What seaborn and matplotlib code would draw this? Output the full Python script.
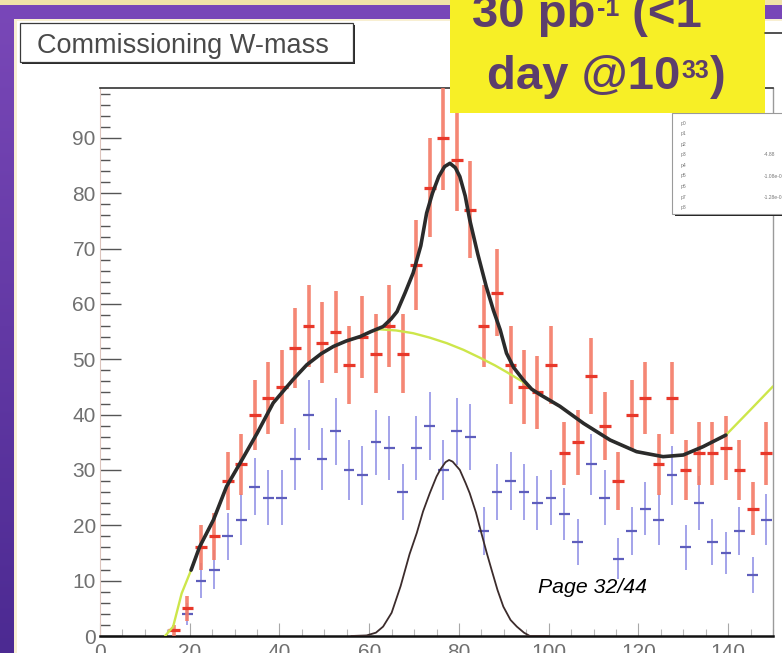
import numpy as np
import matplotlib
matplotlib.use("Agg")
import matplotlib.pyplot as plt
from matplotlib.patches import Rectangle
from matplotlib.ticker import MultipleLocator
import seaborn as sns

# ---------------- data ----------------
# reconstructed transverse/invariant mass spectrum, 3 GeV bins
red_x = np.arange(16.5, 150, 3.0)
red_counts = [1, 5, 16, 18, 28, 31, 40, 43, 45, 52, 56, 53, 55, 49, 54, 51, 56, 51,
              67, 81, 90, 86, 77, 56, 62, 49, 45, 44, 49, 33, 35, 47, 38, 28, 40, 43,
              31, 43, 30, 33, 33, 34, 30, 23, 33]
blue_x = np.arange(19.5, 150, 3.0)
blue_counts = [4, 10, 12, 18, 21, 27, 25, 25, 32, 40, 32, 37, 30, 29, 35, 34, 26, 34,
               38, 30, 37, 36, 19, 26, 28, 26, 24, 25, 22, 17, 31, 25, 14, 19, 23, 21,
               29, 16, 24, 17, 15, 19, 11, 21]

# fitted curves: signal + background (total), background only, signal only
total_x = [20.3, 22.2, 25.3, 28.2, 31.2, 35.0, 38.6, 43.0, 46.1, 49.3, 52.0, 54.9,
           58.0, 60.4, 63.1, 64.9, 66.2, 68.0, 69.8, 71.5, 72.8, 74.1, 75.5, 76.8,
           78.0, 79.2, 80.2, 81.4, 82.4, 84.2, 86.1, 87.7, 89.2, 90.6, 92.2, 94.3,
           96.2, 98.1, 102.5, 107.8, 113.7, 119.6, 125.5, 130.0, 134.4, 139.5]
total_y = [11.9, 16.1, 21.0, 27.0, 31.2, 36.6, 42.1, 46.3, 49.0, 51.0, 52.3, 53.3,
           54.1, 55.0, 55.9, 57.3, 58.6, 62.0, 65.6, 70.5, 76.4, 80.0, 83.0, 84.8,
           85.4, 84.6, 83.0, 79.5, 75.2, 69.0, 63.1, 58.8, 55.3, 51.1, 48.5, 46.3,
           44.6, 43.6, 41.5, 38.4, 35.4, 33.3, 32.4, 32.7, 34.2, 36.3]

bkg_x = [14.5, 16.3, 18.2, 20.3, 22.2, 25.3, 28.2, 31.2, 35.0, 38.6, 43.0, 46.1,
         49.3, 52.0, 54.9, 58.0, 60.4, 62.4, 66.0, 69.8, 73.5, 77.3, 81.0, 84.6,
         88.0, 90.6, 94.3, 96.2, 98.1, 102.5, 107.8, 113.7, 119.6, 125.5, 130.0,
         134.4, 139.5, 144.9, 150.0]
bkg_y = [0.0, 1.7, 7.7, 11.9, 16.1, 21.0, 27.0, 31.2, 36.6, 42.1, 46.3, 49.0,
         51.0, 52.3, 53.3, 54.1, 55.0, 55.4, 55.2, 54.7, 53.9, 52.9, 51.7, 50.3,
         48.9, 47.7, 45.9, 44.6, 43.6, 41.5, 38.4, 35.4, 33.3, 32.4, 32.7,
         34.2, 36.3, 40.8, 45.1]

sig_x = [56.0, 59.4, 61.5, 63.1, 65.0, 67.0, 69.0, 70.6, 72.0, 73.5, 75.0, 75.8,
         77.0, 77.8, 78.6, 80.2, 81.5, 82.4, 83.8, 85.0, 86.2, 87.3, 88.6, 89.9,
         91.5, 92.9, 94.5, 95.8, 100.0]
sig_y = [0.0, 0.1, 0.6, 1.7, 4.2, 9.0, 14.8, 18.6, 22.5, 25.8, 28.8, 30.0,
         31.4, 31.8, 31.5, 30.0, 27.6, 25.8, 22.3, 18.6, 15.0, 11.9, 8.3, 5.3,
         2.9, 1.7, 0.6, 0.0, 0.0]

x_ticks = [0, 20, 40, 60, 80, 100, 120, 140]
y_ticks = [0, 10, 20, 30, 40, 50, 60, 70, 80, 90]

stat_labels = ["p0", "p1", "p2", "p3", "p4", "p5", "p6", "p7", "p8"]
stat_values = {3: "-4.88", 5: "-1.08e-02", 7: "-1.28e-03"}

# ---------------- style ----------------
sns.set_theme(style="white")
plt.rcParams["font.family"] = ["Liberation Sans", "DejaVu Sans"]

W, H = 782, 653
fig = plt.figure(figsize=(W / 100, H / 100), dpi=100)

# slide background (pixel coordinates)
bg = fig.add_axes([0, 0, 1, 1], zorder=-5)
bg.set_xlim(0, W)
bg.set_ylim(H, 0)
bg.axis("off")
bg.add_patch(Rectangle((0, 0), W, H, fc="white", ec="none"))
grad = np.linspace(0, 1, 256)[:, None]
cmap = matplotlib.colors.LinearSegmentedColormap.from_list("slide", ["#7a48b8", "#4c2a92"])
bg.imshow(grad, extent=[0, 14, H, 0], cmap=cmap, aspect="auto", zorder=2)
bg.add_patch(Rectangle((14, 18), 3, H, fc="#f8efd2", ec="none", zorder=2))
bg.add_patch(Rectangle((0, 0), W, 5, fc="#f0e2a8", ec="none", zorder=3))
bg.add_patch(Rectangle((0, 5), W, 14, fc="#7846b8", ec="none", zorder=3))
bg.add_patch(Rectangle((14, 19), W, 2, fc="#f8efd2", ec="none", zorder=3))

# ---------------- histogram panel ----------------
ax = fig.add_axes([100 / W, (H - 636) / H, 673 / W, 548 / H], zorder=1)
ax.set_facecolor("white")

red_counts_a = np.asarray(red_counts, float)
blue_counts_a = np.asarray(blue_counts, float)

# blue sample
ax.errorbar(blue_x, blue_counts_a, yerr=np.sqrt(blue_counts_a), fmt="none",
            ecolor="#a3a3ea", elinewidth=1.4, capsize=0, zorder=2)
ax.hlines(blue_counts_a, blue_x - 1.2, blue_x + 1.2, colors="#5e5ebc", lw=1.6, zorder=3)

# red sample
ax.errorbar(red_x, red_counts_a, yerr=np.sqrt(red_counts_a), fmt="none",
            ecolor="#f47a66", elinewidth=2.6, capsize=0, alpha=0.9, zorder=4)
ax.hlines(red_counts_a, red_x - 1.3, red_x + 1.3, colors="#e8382a", lw=2.3, zorder=5)

# fit functions
sns.lineplot(x=bkg_x, y=bkg_y, ax=ax, color="#cde64a", lw=1.7, sort=False,
             estimator=None, zorder=6)
sns.lineplot(x=total_x, y=total_y, ax=ax, color="#2b2b2b", lw=2.6, sort=False,
             estimator=None, zorder=7)
sns.lineplot(x=sig_x, y=sig_y, ax=ax, color="#3c2c2c", lw=1.3, sort=False,
             estimator=None, zorder=7)

ax.set_xlim(0, 150)
ax.set_ylim(0, 99)
ax.set_xticks(x_ticks)
ax.set_xticklabels([str(v) for v in x_ticks])
ax.set_yticks(y_ticks)
ax.set_yticklabels([str(v) for v in y_ticks])
ax.xaxis.set_minor_locator(MultipleLocator(5))
ax.yaxis.set_minor_locator(MultipleLocator(2))
ax.tick_params(axis="x", which="major", direction="in", bottom=True, length=9.5,
               width=0.8, color="#a8a8a8", labelsize=15, labelcolor="#707070", pad=5)
ax.tick_params(axis="x", which="minor", direction="in", bottom=True, length=5,
               width=0.8, color="#b8b8b8")
ax.tick_params(axis="y", which="major", direction="in", left=True, length=15,
               width=1.0, color="#555555", labelsize=15, labelcolor="#707070", pad=3)
ax.tick_params(axis="y", which="minor", direction="in", left=True, length=7.5,
               width=1.0, color="#555555")
ax.set_xlabel("")
ax.set_ylabel("")
for side, col, lw in [("bottom", "#111111", 1.8), ("top", "#333333", 1.2),
                      ("right", "#9a9a9a", 1.0), ("left", "#dcc4bc", 0.8)]:
    ax.spines[side].set_color(col)
    ax.spines[side].set_linewidth(lw)
    ax.spines[side].set_visible(True)

# ---------------- overlays ----------------
ov = fig.add_axes([0, 0, 1, 1], zorder=5)
ov.set_xlim(0, W)
ov.set_ylim(H, 0)
ov.axis("off")
ov.patch.set_alpha(0)

# title box
ov.add_patch(Rectangle((22, 25), 333, 39, fc="#2a2a2a", ec="none"))
ov.add_patch(Rectangle((20, 23), 333, 39, fc="white", ec="#3a3a3a", lw=0.9))
ov.text(37, 53, "Commissioning W-mass", fontsize=19.5, color="#4a4a4a",
        ha="left", va="baseline")

# statistics box (partly outside the slide)
ov.add_patch(Rectangle((675, 116), 120, 100, fc="#222222", ec="none"))
ov.add_patch(Rectangle((672, 113), 120, 101, fc="white", ec="#9a9a9a", lw=0.8))
for i, lab in enumerate(stat_labels):
    yy = 123 + i * 10.6
    ov.text(681, yy, lab, fontsize=3.6, color="#777777", ha="left", va="center")
    if i in stat_values:
        ov.text(764, yy, stat_values[i], fontsize=3.6, color="#777777",
                ha="left", va="center")
ov.plot([765, 782], [33, 33], color="#333333", lw=1.2)

# luminosity call-out
ov.add_patch(Rectangle((450, -5), 315, 118, fc="#f7ef26", ec="none"))
txt_kw = dict(color="#5c3e6c", fontweight="bold", ha="left", va="baseline")
t1 = ov.text(472, 27, "30 pb", fontsize=34, **txt_kw)
t2 = ov.annotate("-1", xy=(1.0, 1.0), xycoords=t1, xytext=(1, -3),
                 textcoords="offset points", fontsize=18, color="#5c3e6c",
                 fontweight="bold", ha="left", va="top")
ov.annotate(" (<1", xy=(1.0, 0.0), xycoords=(t2, t1), fontsize=34,
            color="#5c3e6c", fontweight="bold", ha="left", va="bottom")
t4 = ov.text(487, 89, "day @10", fontsize=34, **txt_kw)
t5 = ov.annotate("33", xy=(1.0, 1.0), xycoords=t4, xytext=(1, -3),
                 textcoords="offset points", fontsize=18, color="#5c3e6c",
                 fontweight="bold", ha="left", va="top")
ov.annotate(")", xy=(1.0, 0.0), xycoords=(t5, t4), fontsize=34,
            color="#5c3e6c", fontweight="bold", ha="left", va="bottom")

# page marker
ov.text(538, 593, "Page 32/44", fontsize=15.3, style="italic", color="black",
        ha="left", va="baseline")

fig.savefig("out.png", dpi=100)
